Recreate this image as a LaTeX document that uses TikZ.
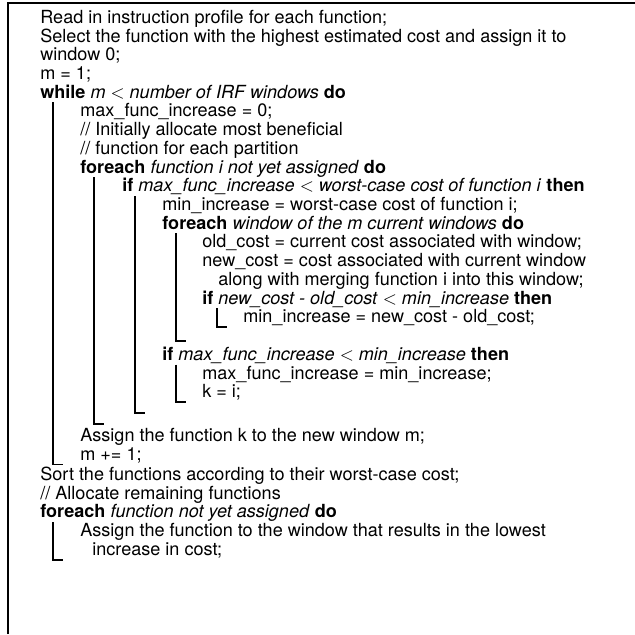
\documentclass[tikz,border=0pt]{standalone}
\usepackage{fontspec}
\setmainfont{TeX Gyre Heros}
\tikzstyle{txt} = [anchor=base west, inner sep=0pt, font=\fontsize{10}{12}\selectfont]
\tikzstyle{vbar} = [line width=1.1pt]
\tikzstyle{frame} = [line width=1.3pt]
\newcommand{\kw}[1]{\textbf{#1}}

\begin{document}
\begin{tikzpicture}[x=0.5537pt, y=-0.5537pt]
        \useasboundingbox (0,0) rectangle (635,634);
        \draw[frame] (8,634) -- (8,3) -- (635,3);

        % Preparation
        \node[txt] (read) at (40,23.5) {Read in instruction profile for each function;};
        \node[txt] (select) at (40,42.2) {Select the function with the highest estimated cost and assign it to};
        \node[txt] (win0) at (40,60.9) {window 0;};
        \node[txt] (minit) at (40,79.6) {m = 1;};
        \node[txt] (while) at (40,98.3) {\kw{while} \textit{m} $<$ \textit{number of IRF windows} \kw{do}};
        \node[txt] (maxinit) at (80,117) {max\_func\_increase = 0;};
        \node[txt] (cmta) at (80,135.7) {// Initially allocate most beneficial};
        \node[txt] (cmtb) at (80,154.4) {// function for each partition};
        \node[txt] (fori) at (80,173.1) {\kw{foreach} \textit{function i not yet assigned} \kw{do}};
        \node[txt] (ifworst) at (122,191.8) {\kw{if} \textit{max\_func\_increase} $<$ \textit{worst-case cost of function i} \kw{then}};
        \node[txt] (mininc) at (162,210.5) {min\_increase = worst-case cost of function i;};
        \node[txt] (forwin) at (162,229.2) {\kw{foreach} \textit{window of the m current windows} \kw{do}};
        \node[txt] (oldcost) at (202,247.9) {old\_cost = current cost associated with window;};
        \node[txt] (newcost) at (202,266.6) {new\_cost = cost associated with current window};
        \node[txt] (along) at (218,285.3) {along with merging function i into this window;};
        \node[txt] (ifnew) at (202,304) {\kw{if} \textit{new\_cost - old\_cost} $<$ \textit{min\_increase} \kw{then}};
        \node[txt] (minupd) at (243,322.7) {min\_increase = new\_cost - old\_cost;};
        \node[txt] (ifmax) at (162,360.4) {\kw{if} \textit{max\_func\_increase} $<$ \textit{min\_increase} \kw{then}};
        \node[txt] (maxupd) at (202,379.1) {max\_func\_increase = min\_increase;};
        \node[txt] (kset) at (202,397.8) {k = i;};
        \node[txt] (assignk) at (80,441.5) {Assign the function k to the new window m;};
        \node[txt] (minc) at (80,460.2) {m += 1;};

        % Remaining functions
        \node[txt] (sort) at (40,480.5) {Sort the functions according to their worst-case cost;};
        \node[txt] (cmtc) at (40,499.2) {// Allocate remaining functions};
        \node[txt] (forrest) at (40,517.9) {\kw{foreach} \textit{function not yet assigned} \kw{do}};
        \node[txt] (assignrest) at (80,536.6) {Assign the function to the window that results in the lowest};
        \node[txt] (inccost) at (92,555.3) {increase in cost;};

        % Block bars
        \draw[vbar] (53,102.3) |- (63,464.5);
        \draw[vbar] (94,177) |- (104,424);
        \draw[vbar] (135,196) |- (145,413);
        \draw[vbar] (176,233) |- (186,341);
        \draw[vbar] (217,308) |- (227,327);
        \draw[vbar] (176,364.5) |- (186,401.8);
        \draw[vbar] (53,522) |- (63,559.5);
\end{tikzpicture}
\end{document}
